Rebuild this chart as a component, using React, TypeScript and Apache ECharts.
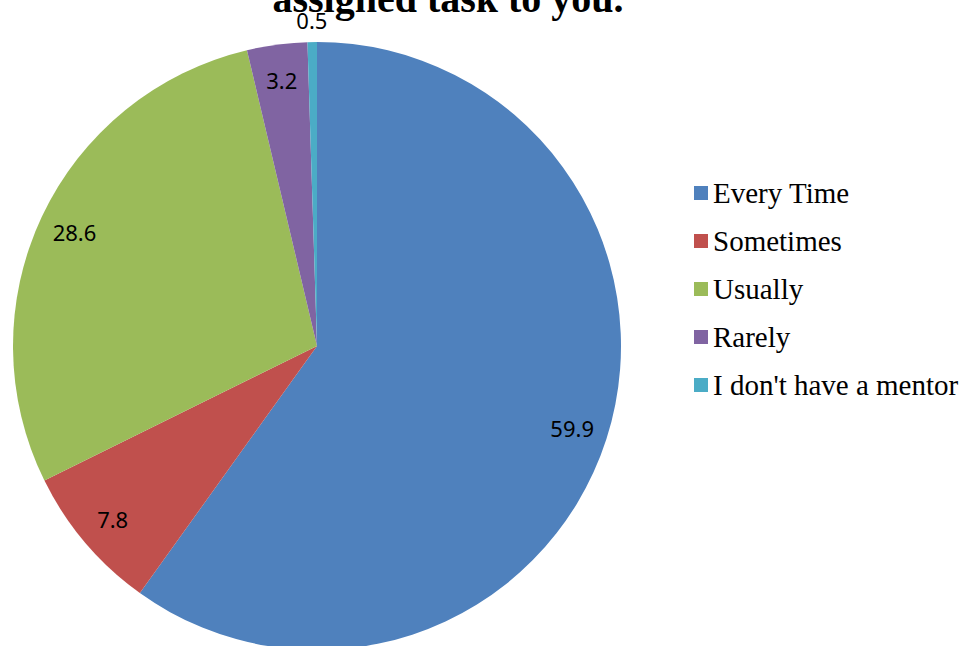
import React, { useEffect, useRef } from "react";
import * as echarts from "echarts";

const categories = ["Every Time", "Sometimes", "Usually", "Rarely", "I don't have a mentor"];
const values = [59.9, 7.8, 28.6, 3.2, 0.5];
const colors = ["#4F81BD", "#C0504D", "#9BBB59", "#8064A2", "#4BACC6"];
const titleText = "assigned task to you.";

export default function App() {
  const ref = useRef<HTMLDivElement>(null);
  useEffect(() => {
    document.body.style.margin = "0";
    const chart = echarts.init(ref.current!, null, { renderer: "svg" });
    const center = [317, 346];
    const R = 304;
    const mainData = categories.map((c, i) => ({ name: c, value: values[i], itemStyle: { color: colors[i] } }));
    const innerLabelData = categories.map((c, i) => ({
      name: c,
      value: values[i],
      label: { show: i < 4 },
    }));
    const outerLabelData = categories.map((c, i) => ({
      name: c,
      value: values[i],
      label: { show: i === 4 },
    }));
    const labelStyle = {
      position: "inside",
      formatter: (p: any) => String(p.value),
      color: "#000",
      fontFamily: "Noto Sans",
      fontSize: 22,
    };
    chart.setOption({
      animation: false,
      color: colors,
      graphic: [
        {
          type: "text",
          x: 448,
          y: 18,
          style: {
            text: titleText,
            font: "bold 40px 'Liberation Serif'",
            fill: "#000",
            textAlign: "center",
            textVerticalAlign: "bottom",
          },
        },
      ],
      legend: {
        orient: "vertical",
        left: 689,
        top: 173,
        icon: "rect",
        itemWidth: 14,
        itemHeight: 14,
        itemGap: 18,
        data: categories,
        textStyle: {
          fontFamily: "Liberation Serif",
          fontSize: 29,
          lineHeight: 30,
          color: "#000",
        },
      },
      series: [
        {
          type: "pie",
          name: "main",
          center,
          radius: [0, R],
          startAngle: 90,
          clockwise: true,
          label: { show: false },
          labelLine: { show: false },
          silent: true,
          data: mainData,
        },
        {
          type: "pie",
          name: "labels",
          center,
          radius: [226, R],
          startAngle: 90,
          clockwise: true,
          itemStyle: { color: "transparent" },
          label: labelStyle,
          labelLine: { show: false },
          silent: true,
          legendHoverLink: false,
          data: innerLabelData,
        },
        {
          type: "pie",
          name: "outerLabels",
          center,
          radius: [R, 342],
          startAngle: 90,
          clockwise: true,
          itemStyle: { color: "transparent" },
          label: labelStyle,
          labelLine: { show: false },
          silent: true,
          legendHoverLink: false,
          data: outerLabelData,
        },
      ],
    });
    return () => chart.dispose();
  }, []);
  return <div ref={ref} style={{ position: "absolute", left: 0, top: 0, width: 970, height: 646 }} />;
}
